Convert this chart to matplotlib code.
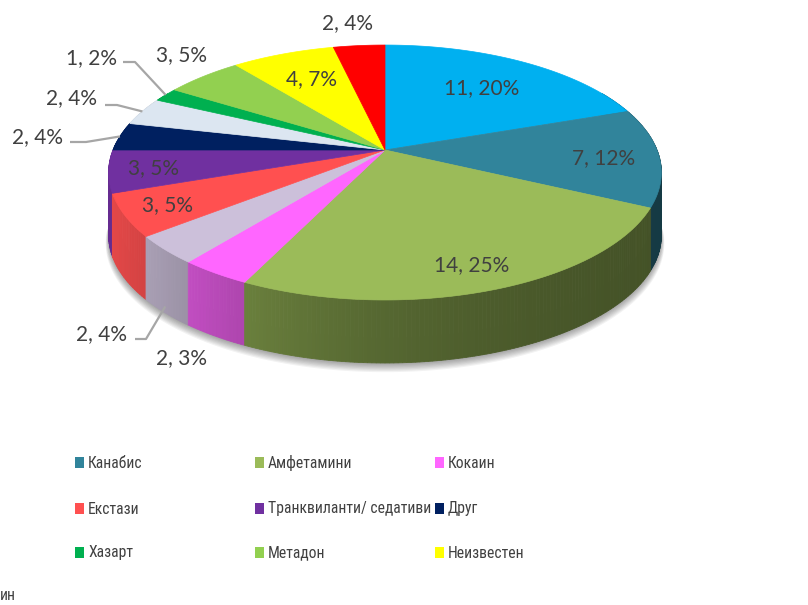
import numpy as np
import matplotlib
matplotlib.use("Agg")
import matplotlib.pyplot as plt
from matplotlib.patches import Polygon, Rectangle
from matplotlib import font_manager
from matplotlib.ft2font import FT2Font

# ---------------- data ----------------
names = ["Хероин", "Канабис", "Амфетамини", "Кокаин", "", "Екстази",
         "Транквиланти/ седативи", "Друг", "", "Хазарт", "Метадон",
         "Неизвестен", ""]
values = [11, 7, 14, 2, 2, 3, 3, 2, 2, 1, 3, 4, 2]
percents = [20, 12, 25, 3, 4, 5, 5, 4, 4, 2, 5, 7, 4]
colors = ["#00B0F0", "#31849B", "#9BBB59", "#FF66FF", "#CCC0DA", "#FF5050",
          "#7030A0", "#002060", "#DCE6F1", "#00B050", "#92D050", "#FFFF00",
          "#FF0000"]
legend_names = ["Канабис", "Амфетамини", "Кокаин",
                "Екстази", "Транквиланти/ седативи", "Друг",
                "Хазарт", "Метадон", "Неизвестен"]

# ---------------- layout ----------------
CX, CY = 385.0, 150.0      # apex of pie on top face (px)
RX, RY = 272.0, 123.5      # projection scales
K = 0.1765                 # perspective factor
DEPTH = 63.0

label_pos = [(482, 88), (604, 158), (472, 265), (181, 358), (102, 334),
             (167, 205), (154, 168), (38, 137), (72, 98), (92, 58),
             (181, 55), (312, 79), (348, 23)]
leader = {4: ((135, 339), (146, 339), 0.9), 7: ((70, 142), (86, 142), 0.0),
          8: ((105, 105), (117, 105), 0.0), 9: ((123, 62), (135, 62), 0.0)}


def proj(phi_deg, r=1.0, dz=0.0):
    phi = np.radians(phi_deg)
    u = r * np.sin(phi)
    v = r * np.cos(phi)
    s = 1.0 / (1.0 + K * v)
    return CX + RX * u * s, CY - RY * v * s + dz


def hex2rgb(h):
    return np.array(matplotlib.colors.to_rgb(h))


fig = plt.figure(figsize=(8.08, 6.05), dpi=100)
ax = fig.add_axes([0, 0, 1, 1])
ax.set_xlim(0, 808)
ax.set_ylim(605, 0)
ax.axis("off")
renderer = fig.canvas.get_renderer()

# choose the narrowest plain sans font (from common families) for the legend
LONGEST = "Транквиланти/ седативи"
TARGET_W = 163.0
ALLOWED = ("Roboto", "Noto Sans", "Open Sans", "Lato", "Inter",
           "Liberation Sans", "DejaVu Sans")
best = None
seen = set()
for f in font_manager.fontManager.ttflist:
    fn = f.fname
    nm = f.name
    if fn in seen or f.style != "normal":
        continue
    seen.add(fn)
    if not any(nm == a or nm.startswith(a + " Condensed") or nm.startswith(a + " Narrow")
               or nm.startswith(a + " SemiCondensed") for a in ALLOWED):
        continue
    base = fn.lower().rsplit("/", 1)[-1]
    if any(s in base for s in ("bold", "italic", "oblique", "light", "thin", "black",
                               "medium", "semibold", "extrabold", "mono", "display")):
        continue
    try:
        ft = FT2Font(fn)
        if ft.get_char_index(ord("Ж")) == 0 or ft.get_char_index(ord("д")) == 0:
            continue
        prop = font_manager.FontProperties(fname=fn, size=10)
        w, h, d = renderer.get_text_width_height_descent(LONGEST, prop, ismath=False)
    except Exception:
        continue
    size = 10 * TARGET_W / w
    if best is None or size > best[0]:
        best = (size, fn)
if best is None:
    leg_props = font_manager.FontProperties(family="DejaVu Sans", size=9.5)
else:
    leg_props = font_manager.FontProperties(fname=best[1], size=min(best[0], 13.5))

total = float(sum(values))
bounds = np.concatenate([[0], np.cumsum(values)]) / total * 360.0

# soft shadow below the pie
for i in range(8):
    ang = np.linspace(95, 265, 200)
    xs, ys = proj(ang, 1.0 + i * 0.0015, DEPTH + 1 + i * 0.9)
    top_x, top_y = proj(ang, 0.97, DEPTH - 20)
    ax.add_patch(Polygon(np.column_stack([np.r_[xs, top_x[::-1]], np.r_[ys, top_y[::-1]]]),
                         closed=True, facecolor="black", edgecolor="none",
                         alpha=0.05, zorder=1))

# walls
quads = []
for i, (a, b) in enumerate(zip(bounds[:-1], bounds[1:])):
    n = max(2, int((b - a) / 0.75) + 1)
    ang = np.linspace(a, b, n)
    base = hex2rgb(colors[i])
    for a0, a1 in zip(ang[:-1], ang[1:]):
        x0, y0 = proj(a0)
        x1, y1 = proj(a1)
        vmid = np.cos(np.radians((a0 + a1) / 2))
        if vmid > 0.5:
            continue
        xm = (x0 + x1) / 2
        f = 0.38 + 0.52 * np.exp(-max(xm - 110, 0) / 250.0)
        col = np.clip(base * f, 0, 1)
        quads.append((vmid, [(x0, y0), (x1, y1), (x1, y1 + DEPTH), (x0, y0 + DEPTH)], col))
quads.sort(key=lambda q: -q[0])
for _, pts, col in quads:
    ax.add_patch(Polygon(pts, closed=True, facecolor=col, edgecolor=col,
                         linewidth=0.6, zorder=2))

# top faces
for i, (a, b) in enumerate(zip(bounds[:-1], bounds[1:])):
    ang = np.linspace(a, b, max(3, int(b - a) * 2))
    xs, ys = proj(ang)
    pts = np.column_stack([np.r_[CX, xs], np.r_[CY, ys]])
    ax.add_patch(Polygon(pts, closed=True, facecolor=colors[i],
                         edgecolor=colors[i], linewidth=0.5, zorder=3))

# data labels
LFONT = dict(family=["Lato", "DejaVu Sans"], fontsize=15, color="#404040")
for i, (v, p) in enumerate(zip(values, percents)):
    lx, ly = label_pos[i]
    ax.text(lx, ly, f"{v}, {p}%", ha="center", va="center", zorder=5, **LFONT)
    if i in leader:
        p0, p1, depthfrac = leader[i]
        mid = (bounds[i] + bounds[i + 1]) / 2
        ex, ey = proj(mid, 1.0, DEPTH * depthfrac)
        ax.plot([p0[0], p1[0], ex], [p0[1], p1[1], ey], color="#A6A6A6",
                lw=1.6, zorder=4, solid_capstyle="butt")

# legend
col_x = [75, 255, 435]
row_y = [463, 509, 553]
for j, nm in enumerate(legend_names):
    c = colors[names.index(nm)]
    x = col_x[j % 3]
    y = row_y[j // 3]
    ax.add_patch(Rectangle((x, y - 6), 9, 11, facecolor=c, edgecolor="none", zorder=5))
    ax.text(x + 13, y, nm, ha="left", va="center", fontproperties=leg_props,
            color="#404040", zorder=5)
ax.text(0, 595, "ин", ha="left", va="center", fontproperties=leg_props,
        color="#404040")

fig.savefig("out.png", dpi=100)
